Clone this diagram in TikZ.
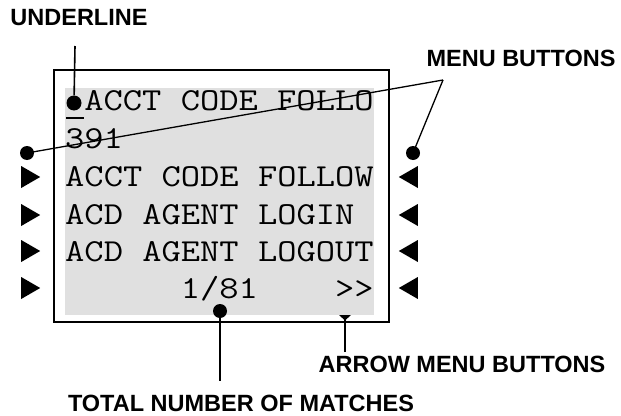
\documentclass[tikz,border=0pt]{standalone}
\usepackage{fontspec}
\usepackage{graphicx}
\setmainfont{Liberation Sans}
\usetikzlibrary{shapes.geometric}
\newcommand{\lcdtext}[1]{\scalebox{1.17}[1]{\ttfamily\fontsize{32}{34}\selectfont #1}}
\tikzset{
  lbl/.style={font=\bfseries\fontsize{23.5}{26}\selectfont, inner sep=0pt},
  lcd/.style={anchor=base west, inner sep=0pt},
  dot/.style={circle, fill=black, inner sep=0pt, minimum size=14pt},
  tri/.style={isosceles triangle, isosceles triangle apex angle=60, fill=black, inner sep=0pt, minimum height=19pt, minimum width=22pt},
  conn/.style={line width=1.3pt},
}
\begin{document}
\begin{tikzpicture}[x=1pt,y=-1pt]
\useasboundingbox (0,0) rectangle (621,415);
% screen
\fill[black!12] (65,88) rectangle (374,315);
\draw[line width=2pt] (54,70) rectangle (389,322);
% screen text
\node[lcd] (t1) at (84.2,110) {\lcdtext{ACCT CODE FOLLO}};
\node[lcd] (t2) at (65,148) {\lcdtext{391}};
\node[lcd] (t3) at (65,186) {\lcdtext{ACCT CODE FOLLOW}};
\node[lcd] (t4) at (65,224) {\lcdtext{ACD AGENT LOGIN}};
\node[lcd] (t5) at (65,261) {\lcdtext{ACD AGENT LOGOUT}};
\node[lcd] (t6) at (65,298) {\lcdtext{\ \ \ \ \ \ 1/81\ \ \ \ >>}};
% underline cursor
\node[dot, minimum size=15pt] (cur) at (74,103) {};
\draw[line width=1.6pt] (66,118) -- (84,118);
% side buttons
\foreach \y [count=\i] in {177,215,251,288} {
  \node[tri, shape border rotate=0] (L\i) at (27.5,\y) {};
  \node[tri, shape border rotate=180] (R\i) at (411.5,\y) {};
}
\node[dot] (lb) at (27,153) {};
\node[dot] (rb) at (413,153) {};
\node[dot] (tm) at (220,311) {};
% labels
\node[lbl] (ul) at (79,18) {UNDERLINE};
\node[lbl] (mb) at (521,58) {MENU BUTTONS};
\node[lbl] (amb) at (462,364) {ARROW MENU BUTTONS};
\node[lbl] (tnm) at (241,403) {TOTAL NUMBER OF MATCHES};
% connectors
\coordinate (ulend) at (75,46);
\coordinate (apex) at (443,80);
\coordinate (tmend) at (220,381);
\coordinate (ambend) at (345,352);
\coordinate (ambtop) at (345,318);
\draw[conn, line width=1.6pt] (ulend) -- (cur);
\draw[conn] (apex) -- (lb.center);
\draw[conn] (apex) -- (rb.center);
\draw[conn, line width=1.6pt] (tm.center) -- (tmend);
\draw[conn, line width=1.6pt] (ambend) -- (ambtop);
\fill (339,315) -- (351,315) -- (345,320.5) -- cycle;
\end{tikzpicture}
\end{document}
